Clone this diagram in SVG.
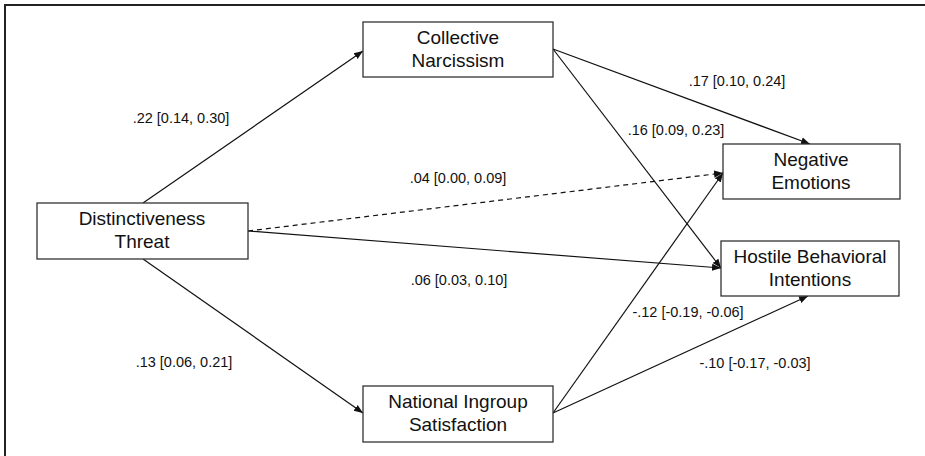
<svg xmlns="http://www.w3.org/2000/svg" width="925" height="456" viewBox="0 0 925 456">
<defs>
<marker id="ah" viewBox="0 0 10 10" refX="10" refY="5" markerWidth="9" markerHeight="9" markerUnits="userSpaceOnUse" orient="auto">
<path d="M0,1 L10,5 L0,9 Z" fill="#111"/>
</marker>
<style>
.box{fill:#fff;stroke:#333;stroke-width:1.3}
.nt{font-family:"Liberation Sans",Arial,sans-serif;font-size:19px;fill:#111;text-anchor:middle}
.lb{font-family:"Liberation Sans",Arial,sans-serif;font-size:14.5px;fill:#111;text-anchor:middle}
.e{stroke:#111;stroke-width:1.2;fill:none;marker-end:url(#ah)}
.d{stroke-dasharray:5,4}
</style>
</defs>
<rect x="0" y="0" width="925" height="456" fill="#fff"/>
<rect x="5" y="5" width="1000" height="1000" fill="none" stroke="#222" stroke-width="2"/>
<g id="connectors">
<line class="e" x1="143" y1="203" x2="363" y2="51"/>
<line class="e" x1="143" y1="259" x2="363" y2="413"/>
<line class="e" x1="553" y1="49" x2="810" y2="144"/>
<line class="e" x1="553" y1="49" x2="721" y2="268"/>
<line class="e d" x1="248" y1="231" x2="723" y2="173"/>
<line class="e" x1="248" y1="231" x2="721" y2="268"/>
<line class="e" x1="553" y1="413" x2="723" y2="173"/>
<line class="e" x1="553" y1="413" x2="808" y2="296"/>
</g>
<g id="labels">
<text class="lb" x="181" y="123">.22 [0.14, 0.30]</text>
<text class="lb" x="184" y="367">.13 [0.06, 0.21]</text>
<text class="lb" x="737" y="86">.17 [0.10, 0.24]</text>
<text class="lb" x="676" y="135">.16 [0.09, 0.23]</text>
<text class="lb" x="458" y="183">.04 [0.00, 0.09]</text>
<text class="lb" x="459" y="285">.06 [0.03, 0.10]</text>
<text class="lb" x="688" y="317">-.12 [-0.19, -0.06]</text>
<text class="lb" x="755" y="368">-.10 [-0.17, -0.03]</text>
</g>
<g id="collective-narcissism">
<rect class="box" x="363" y="22" width="190" height="55"/>
<text class="nt" x="458" y="44">Collective</text>
<text class="nt" x="458" y="67">Narcissism</text>
</g>
<g id="distinctiveness-threat">
<rect class="box" x="37" y="203" width="211" height="56"/>
<text class="nt" x="142" y="225">Distinctiveness</text>
<text class="nt" x="142" y="248">Threat</text>
</g>
<g id="national-ingroup-satisfaction">
<rect class="box" x="363" y="386" width="190" height="56"/>
<text class="nt" x="458" y="408">National Ingroup</text>
<text class="nt" x="458" y="431">Satisfaction</text>
</g>
<g id="negative-emotions">
<rect class="box" x="723" y="144" width="177" height="55"/>
<text class="nt" x="811" y="166">Negative</text>
<text class="nt" x="811" y="189">Emotions</text>
</g>
<g id="hostile-behavioral-intentions">
<rect class="box" x="721" y="241" width="178" height="55"/>
<text class="nt" x="810" y="263">Hostile Behavioral</text>
<text class="nt" x="810" y="286">Intentions</text>
</g>
</svg>
